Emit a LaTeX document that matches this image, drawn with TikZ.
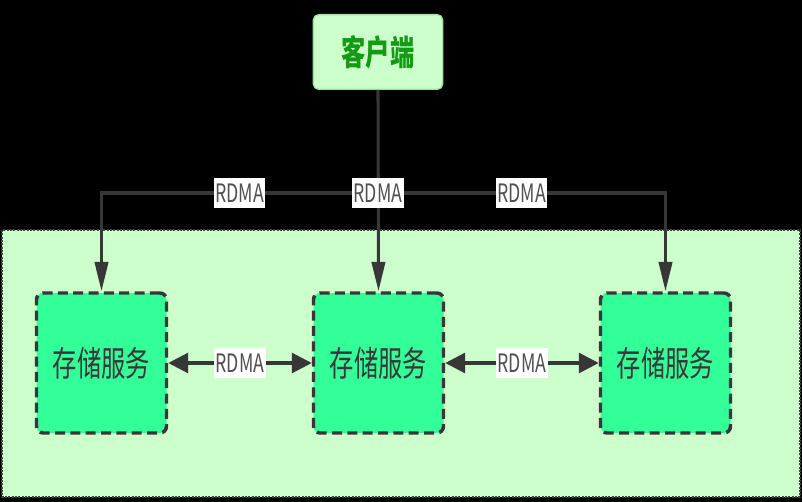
\documentclass[tikz,border=0pt]{standalone}
\usepackage{fontspec}
\usepackage{xcolor}
\usetikzlibrary{arrows.meta}
\newfontfamily\cjk[FakeStretch=0.7]{Noto Sans CJK SC}
\definecolor{zonegreen}{RGB}{204, 255, 204}
\definecolor{zoneedge}{RGB}{60, 70, 60}
\definecolor{storegreen}{RGB}{51, 255, 153}
\definecolor{clientfill}{RGB}{204, 255, 204}
\definecolor{clientedge}{RGB}{160, 225, 160}
\definecolor{clienttext}{RGB}{20, 155, 20}
\definecolor{linkgray}{RGB}{55, 55, 55}
\definecolor{labelgray}{RGB}{80, 80, 80}

\begin{document}
\begin{tikzpicture}[x=0.75pt, y=-0.75pt,
  clientbox/.style={draw=clientedge, line width=1pt, fill=clientfill,
    rounded corners=4pt, minimum width=97pt, minimum height=56pt,
    text=clienttext, font=\cjk\bfseries\fontsize{26}{30}\selectfont},
  storebox/.style={draw=linkgray, line width=2.6pt, dash pattern=on 7.5pt off 4pt,
    fill=storegreen, rounded corners=5pt, minimum width=97.5pt,
    minimum height=105pt, text=black!78,
    font=\cjk\fontsize{26}{30}\selectfont},
  rdma/.style={fill=white, text=labelgray, inner xsep=1pt, inner ysep=4pt,
    font=\cjk\fontsize{19}{20}\selectfont},
  link/.style={draw=linkgray, line width=2.3pt},
  vtip/.tip={Triangle[length=22pt, width=10pt]},
  htip/.tip={Triangle[length=15pt, width=15pt]}]

  % ── Canvas ───────────────────────────────────────────────────────────
  \useasboundingbox (0,0) rectangle (802,502);
  \fill[black] (0,0) rectangle (802,502);

  % ── Storage zone ─────────────────────────────────────────────────────
  \fill[zonegreen] (2,230) rectangle (800,497);
  \draw[zoneedge, line width=1.2pt, dash pattern=on 1.5pt off 1pt]
    (2,230) rectangle (800,497);

  % ── Nodes ────────────────────────────────────────────────────────────
  \node[clientbox] (client) at (378,52) {客户端};
  \node[storebox] (store1) at (101.5,363) {存储服务};
  \node[storebox] (store2) at (378.5,363) {存储服务};
  \node[storebox] (store3) at (665.5,363) {存储服务};

  \coordinate (bus) at (378,193);

  % ── Client to storage ────────────────────────────────────────────────
  \draw[link, -vtip] (bus) -| node[rdma, pos=0.25] {RDMA} (store1.north);
  \draw[link, -vtip] (bus) -| node[rdma, pos=0.25] {RDMA} (store3.north);
  \draw[link, -vtip] (client.south) -- (store2.north);
  \node[rdma] at (bus) {RDMA};

  % ── Between storage nodes ────────────────────────────────────────────
  \draw[link, htip-htip] (store1.east) -- node[rdma] {RDMA} (store2.west);
  \draw[link, htip-htip] (store2.east) -- node[rdma] {RDMA} (store3.west);

\end{tikzpicture}
\end{document}
